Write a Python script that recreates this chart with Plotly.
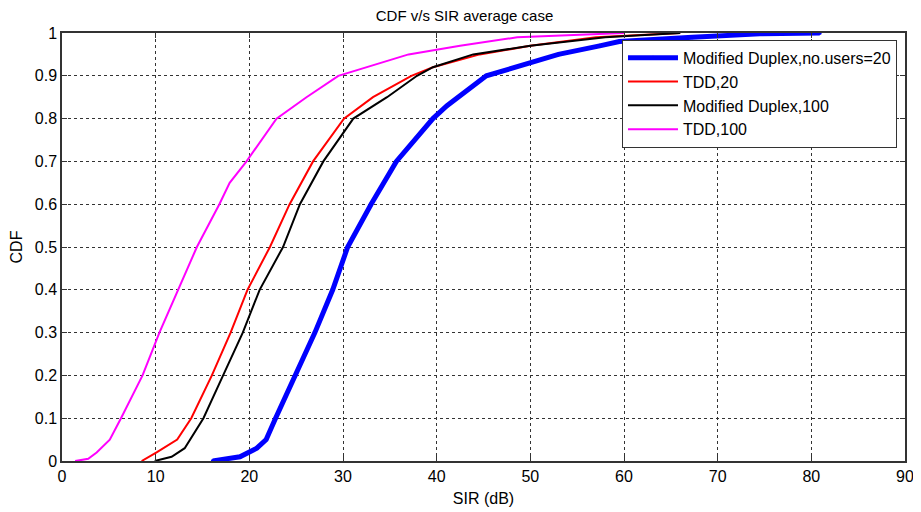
import plotly.graph_objects as go

# CDF levels and SIR (dB) values
cdf_md20 = [0, 0.01, 0.03, 0.05, 0.1, 0.2, 0.3, 0.4, 0.5, 0.6, 0.7, 0.8, 0.83, 0.9, 0.93, 0.95, 0.97, 0.98, 0.99, 0.998, 1.0]
sir_md20 = [16.1, 19.0, 20.8, 21.8, 22.8, 24.9, 27.0, 28.9, 30.5, 33.0, 35.7, 39.6, 41.1, 45.3, 50.0, 53.0, 57.4, 59.5, 67.3, 74.5, 80.9]

cdf_tdd20 = [0, 0.02, 0.05, 0.1, 0.2, 0.3, 0.4, 0.5, 0.6, 0.7, 0.8, 0.85, 0.9, 0.92, 0.95, 0.97, 0.99, 1.0]
sir_tdd20 = [8.5, 10.1, 12.3, 13.8, 16.0, 18.0, 19.8, 22.2, 24.3, 26.8, 30.1, 33.2, 37.3, 39.6, 44.6, 50.0, 57.0, 66.0]

cdf_md100 = [0, 0.01, 0.03, 0.1, 0.2, 0.3, 0.4, 0.5, 0.6, 0.7, 0.8, 0.85, 0.9, 0.92, 0.95, 0.97, 0.99, 1.0]
sir_md100 = [9.9, 11.7, 13.1, 15.1, 17.2, 19.3, 21.1, 23.6, 25.4, 27.9, 31.1, 34.7, 37.9, 39.6, 43.9, 50.0, 58.0, 66.0]

cdf_tdd100 = [0, 0.005, 0.02, 0.05, 0.1, 0.2, 0.3, 0.4, 0.5, 0.6, 0.65, 0.7, 0.75, 0.8, 0.85, 0.9, 0.95, 0.97, 0.99, 1.0]
sir_tdd100 = [1.4, 2.8, 3.7, 5.1, 6.3, 8.6, 10.4, 12.4, 14.4, 16.8, 17.9, 19.7, 21.3, 22.9, 26.1, 29.5, 37.0, 42.5, 48.6, 60.0]

fig = go.Figure()
fig.add_trace(go.Scatter(x=sir_md20, y=cdf_md20, mode='lines+markers', name='Modified Duplex,no.users=20',
                         line=dict(color='#0000ff', width=5), marker=dict(size=4, color='#0000ff')))
fig.add_trace(go.Scatter(x=sir_tdd20, y=cdf_tdd20, mode='lines', name='TDD,20',
                         line=dict(color='#ff0000', width=2)))
fig.add_trace(go.Scatter(x=sir_md100, y=cdf_md100, mode='lines', name='Modified Duplex,100',
                         line=dict(color='#000000', width=2)))
fig.add_trace(go.Scatter(x=sir_tdd100, y=cdf_tdd100, mode='lines', name='TDD,100',
                         line=dict(color='#ff00ff', width=2)))

axis_style = dict(showline=True, linecolor='#333333', linewidth=1.5, mirror='ticks',
                  ticks='inside', ticklen=5, tickcolor='#333333', automargin=False,
                  showgrid=True, gridcolor='#333333', gridwidth=1, griddash='3px,3px',
                  zeroline=False, tickfont=dict(size=16, color='black'))

# the page body adds an 8px offset, so the figure is 8px smaller than the window
fig.update_layout(
    width=913, height=504,
    title=dict(text='CDF v/s SIR average case', x=0.5, xanchor='center',
               yref='container', y=1.0, yanchor='top', pad=dict(t=2),
               font=dict(size=15, color='black')),
    font=dict(family='Liberation Sans, Arial, sans-serif', color='black'),
    plot_bgcolor='white', paper_bgcolor='white',
    margin=dict(l=54, r=16, t=25, b=51),
    xaxis=dict(range=[0, 90], dtick=10, title=dict(text='SIR (dB)', font=dict(size=16), standoff=9), **axis_style),
    yaxis=dict(range=[0, 1], dtick=0.1, title=dict(text='CDF', font=dict(size=16), standoff=8), **axis_style),
    legend=dict(x=0.9905, y=0.984, xanchor='right', yanchor='top', bgcolor='white',
                bordercolor='#333333', borderwidth=1, font=dict(size=16), tracegroupgap=0,
                itemwidth=50),
    showlegend=True,
)

fig.write_html("out.html")
